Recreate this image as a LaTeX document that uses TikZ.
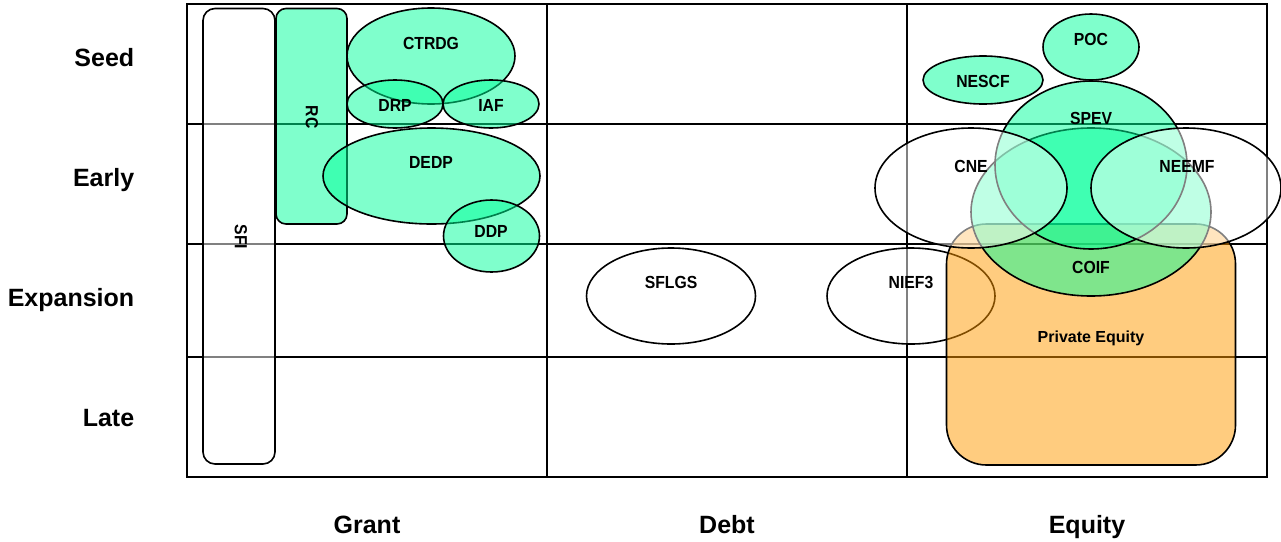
\documentclass[tikz,border=0pt]{standalone}
\usepackage{fontspec}
\setmainfont{Liberation Sans}
\usetikzlibrary{shapes.geometric}
\definecolor{mintfill}{RGB}{0,255,153}
\definecolor{amberfill}{RGB}{255,153,0}
\newcommand\squeezed[1]{\scalebox{0.9}[1]{#1}}
\begin{document}
\begin{tikzpicture}[x=1pt,y=-1pt,line width=1.6pt,
  gridline/.style={line width=1.8pt},
  mint/.style={draw=black,fill=mintfill,fill opacity=0.5,text opacity=1},
  ghost/.style={draw=black,fill=white,fill opacity=0.5,text opacity=1},
  amber/.style={draw=black,fill=amberfill,fill opacity=0.5,text opacity=1},
  oval/.style={ellipse,inner sep=0pt,outer sep=0pt},
  pill/.style={rectangle,inner sep=0pt,outer sep=0pt},
  tag/.style={font=\bfseries\fontsize{17.5}{20}\selectfont,inner sep=0pt},
  axislabel/.style={font=\bfseries\fontsize{25}{30}\selectfont,inner sep=0pt}]
\useasboundingbox (0,0) rectangle (1281,541);

% matrix of funding type (columns) against stage (rows)
\coordinate (tl) at (187,4);
\coordinate (br) at (1267,477);
\draw[gridline] (tl) rectangle (br);
\draw[gridline] (547,4) -- (547,477);
\draw[gridline] (907,4) -- (907,477);
\draw[gridline] (187,124) -- (1267,124);
\draw[gridline] (187,244) -- (1267,244);
\draw[gridline] (187,357) -- (1267,357);

% grant schemes
\node[pill,ghost,rounded corners=12pt,minimum width=72pt,minimum height=455.5pt] (sfi) at (239,236.25) {};
\node[pill,mint,rounded corners=10pt,minimum width=71pt,minimum height=215.5pt] (rc) at (311.5,116.25) {};
\node[oval,mint,minimum width=168pt,minimum height=96pt] (ctrdg) at (431,56) {};
\node[oval,mint,minimum width=96pt,minimum height=48pt] (drp) at (395,104) {};
\node[oval,mint,minimum width=96pt,minimum height=48pt] (iaf) at (491,104) {};
\node[oval,mint,minimum width=217pt,minimum height=96pt] (dedp) at (431.5,176) {};
\node[oval,mint,minimum width=96pt,minimum height=72pt] (ddp) at (491.5,236) {};

% debt schemes
\node[oval,ghost,minimum width=169pt,minimum height=96pt] (sflgs) at (671,296) {};
\node[oval,ghost,minimum width=168pt,minimum height=96pt] (nief) at (911,296) {};

% equity schemes
\node[oval,mint,minimum width=96pt,minimum height=66pt] (poc) at (1091,47) {};
\node[oval,mint,minimum width=120pt,minimum height=48pt] (nescf) at (983,80) {};
\node[pill,amber,rounded corners=40pt,minimum width=289pt,minimum height=241pt] (pe) at (1091,344.5) {};
\node[oval,mint,minimum width=240pt,minimum height=168pt] (coif) at (1091,212) {};
\node[oval,mint,minimum width=192pt,minimum height=168pt] (spev) at (1091,165) {};
\node[oval,ghost,minimum width=192pt,minimum height=120pt] (cne) at (971,188) {};
\node[oval,ghost,minimum width=190pt,minimum height=120pt] (neemf) at (1186,188) {};

% scheme names
\node[tag,rotate=-90] (sfiT) at (241,237) {\squeezed{SFI}};
\node[tag,rotate=-90] (rcT) at (312,117) {\squeezed{RC}};
\node[tag] (ctrdgT) at (431,43) {\squeezed{CTRDG}};
\node[tag] (drpT) at (395,105) {\squeezed{DRP}};
\node[tag] (iafT) at (491,105) {\squeezed{IAF}};
\node[tag] (dedpT) at (431,162) {\squeezed{DEDP}};
\node[tag] (ddpT) at (491,231) {\squeezed{DDP}};
\node[tag] (sflgsT) at (671,282) {\squeezed{SFLGS}};
\node[tag] (niefT) at (911,282) {\squeezed{NIEF3}};
\node[tag] (pocT) at (1091,39.5) {\squeezed{POC}};
\node[tag] (nescfT) at (983,81) {\squeezed{NESCF}};
\node[tag] (spevT) at (1091,118) {\squeezed{SPEV}};
\node[tag] (cneT) at (971,166.5) {\squeezed{CNE}};
\node[tag] (neemfT) at (1187,166.5) {\squeezed{NEEMF}};
\node[tag] (coifT) at (1091,267.5) {\squeezed{COIF}};
\node[font=\bfseries\fontsize{16}{19}\selectfont,inner sep=0pt,anchor=base] (peT) at (1091,342.5) {Private Equity};

% stage labels
\node[axislabel,anchor=base east] (seed) at (135,66) {Seed};
\node[axislabel,anchor=base east] (early) at (135,186) {Early};
\node[axislabel,anchor=base east] (expansion) at (135,306) {Expansion};
\node[axislabel,anchor=base east] (late) at (135,426) {Late};

% funding type labels
\node[axislabel,anchor=base] (grant) at (367,533) {Grant};
\node[axislabel,anchor=base] (debt) at (727,533) {Debt};
\node[axislabel,anchor=base] (equity) at (1087,533) {Equity};
\end{tikzpicture}
\end{document}
